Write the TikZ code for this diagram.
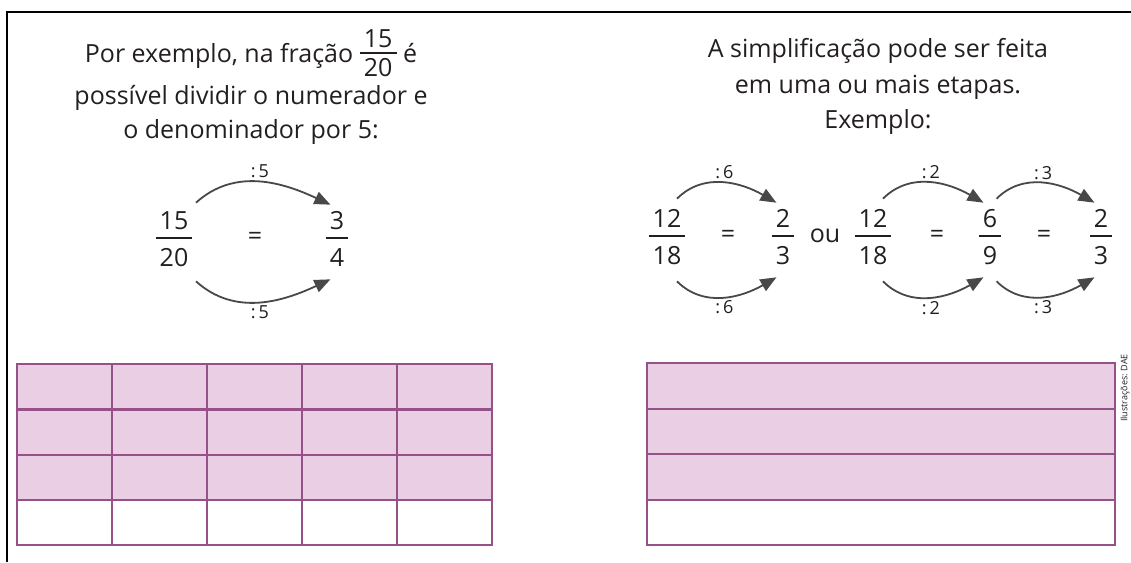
\documentclass[tikz,border=0pt]{standalone}
\usepackage{fontspec}
\setmainfont{Open Sans}
\usepackage{tikz}
\usetikzlibrary{arrows.meta}
\definecolor{inktext}{RGB}{35,31,32}
\definecolor{arrowgray}{RGB}{72,72,72}
\definecolor{gridmauve}{RGB}{150,82,136}
\definecolor{gridpink}{RGB}{233,206,228}
\setlength{\arrayrulewidth}{1.6pt}
\newcommand{\frc}[3][28pt]{\begin{tabular}{@{\,}c@{\,}}#2\\[-1pt]\hline\rule{0pt}{#1}#3\end{tabular}}
\newcommand{\frcin}[2]{\begin{tabular}{@{\,}c@{\,}}#1\\[-4pt]\hline\rule{0pt}{22pt}#2\end{tabular}}

\begin{document}
\begin{tikzpicture}[x=1pt,y=1pt,
    txt/.style={font=\fontsize{25}{30}\selectfont, text=inktext, inner sep=0pt},
    frac/.style={font=\fontsize{25}{30}\selectfont, text=inktext, inner sep=3.33pt},
    lbl/.style={font=\fontsize{18}{21}\selectfont, text=inktext, inner sep=3pt},
    curv/.style={draw=arrowgray, line width=1.8pt, -{Triangle[length=16pt,width=13pt]}},
    tablegrid/.style={draw=gridmauve, line width=2.3pt}]
        \useasboundingbox (0,0) rectangle (1131,-562);
        \fill[white] (0,0) rectangle (1131,-562);
        \draw[line width=2pt] (7,-562) -- (7,-12) -- (1131,-12);

        % left explanation
        \node[txt, anchor=base] (l1) at (251,-62) {Por exemplo, na fração \frcin{15}{20} é};
        \node[txt, anchor=base] (l2) at (251,-104) {possível dividir o numerador e};
        \node[txt, anchor=base] (l3) at (251,-138) {o denominador por 5:};

        \node[frac] (a1) at (174,-242) {\frc{15}{20}};
        \node[txt] (e1) at (255,-238) {=};
        \node[frac] (a2) at (337,-242) {\frc{3}{4}};
        \draw[curv] ([yshift=2pt]a1.north east) to[out=42,in=155] node[lbl, above] {:\,5} (a2.100);
        \draw[curv] ([yshift=-2pt]a1.south east) to[out=-42,in=-155] node[lbl, below] {:\,5} (a2.-100);

        % right explanation
        \node[txt, anchor=base] (r1) at (878,-57) {A simplificação pode ser feita};
        \node[txt, anchor=base] (r2) at (878,-93) {em uma ou mais etapas.};
        \node[txt, anchor=base] (r3) at (878,-128) {Exemplo:};

        \node[frac] (b1) at (667,-240) {\frc{12}{18}};
        \node[txt] (e2) at (728,-236) {=};
        \node[frac] (b2) at (783,-240) {\frc{2}{3}};
        \node[txt] (ou) at (825,-236) {ou};
        \node[frac] (c1) at (873,-240) {\frc{12}{18}};
        \node[txt] (e3) at (937,-236) {=};
        \node[frac] (c2) at (990,-240) {\frc{6}{9}};
        \node[txt] (e4) at (1044,-236) {=};
        \node[frac] (c3) at (1101,-240) {\frc{2}{3}};

        \draw[curv] ([yshift=4pt]b1.75) to[out=45,in=150] node[lbl, above] {:\,6} (b2.100);
        \draw[curv] ([yshift=-4pt]b1.-75) to[out=-45,in=-150] node[lbl, below] {:\,6} (b2.-100);
        \draw[curv] ([yshift=4pt]c1.75) to[out=45,in=150] node[lbl, above] {:\,2} (c2.100);
        \draw[curv] ([yshift=-4pt]c1.-75) to[out=-45,in=-150] node[lbl, below] {:\,2} (c2.-100);
        \draw[curv] ([yshift=4pt]c2.80) to[out=45,in=150] node[lbl, above] {:\,3} (c3.100);
        \draw[curv] ([yshift=-4pt]c2.-80) to[out=-45,in=-150] node[lbl, below] {:\,3} (c3.-100);

        % grids
        \fill[gridpink] (17,-364) rectangle (492,-500);
        \foreach \y in {409.5,455,500} {
          \draw[tablegrid] (17,-\y) -- (492,-\y);
        }
        \foreach \x in {112,207,302,397} {
          \draw[tablegrid] (\x,-364) -- (\x,-545);
        }
        \draw[tablegrid] (17,-364) rectangle (492,-545);

        \fill[gridpink] (647,-363) rectangle (1115,-500);
        \foreach \y in {409,454,500} {
          \draw[tablegrid] (647,-\y) -- (1115,-\y);
        }
        \draw[tablegrid] (647,-363) rectangle (1115,-545);

        \node[font=\fontsize{9}{11}\selectfont, text=inktext, rotate=90] (credit) at (1125,-388) {Ilustrações: DAE};
      \end{tikzpicture}
\end{document}
